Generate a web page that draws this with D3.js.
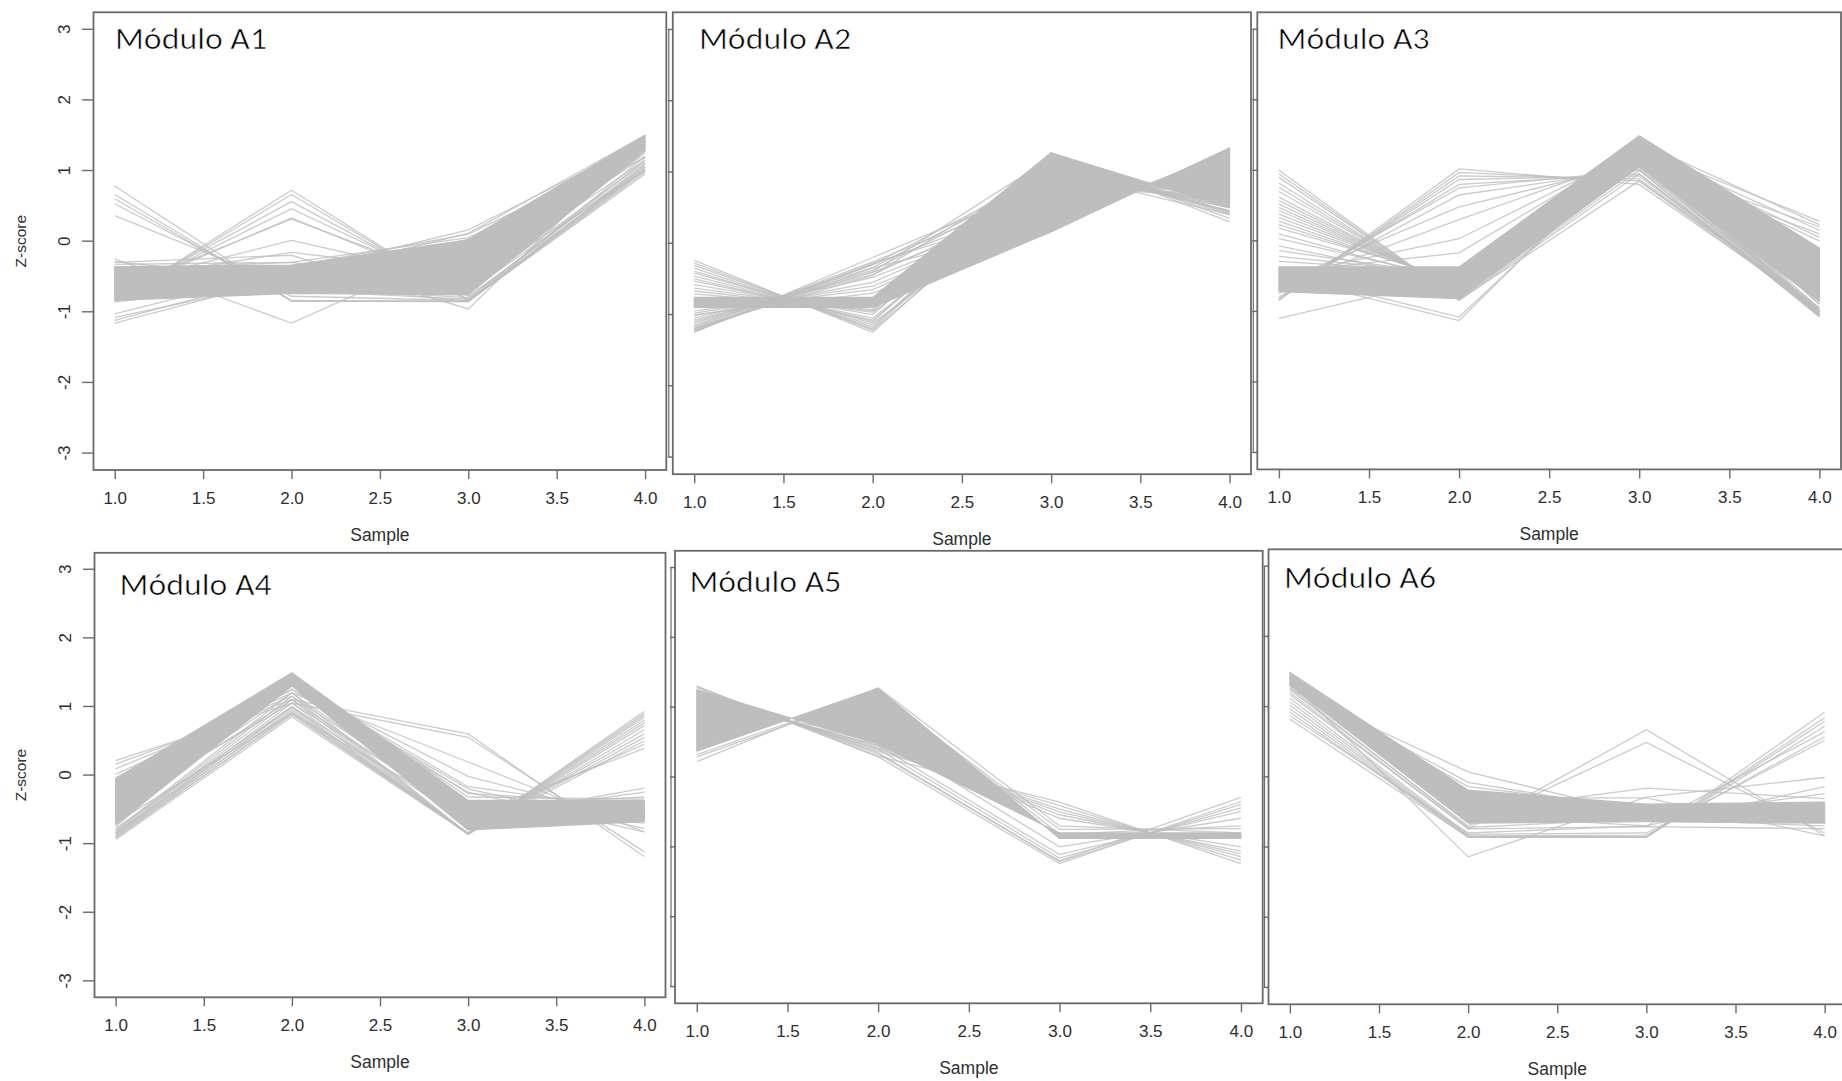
<!DOCTYPE html>
<html>
<head>
<meta charset="utf-8">
<script src="https://cdn.jsdelivr.net/npm/d3@7"></script>
<style>
  body { margin: 0; background: #fff; }
  svg { display: block; }
</style>
</head>
<body>
<svg id="fig" width="1842" height="1081"></svg>
<script>
// Samples on the x axis and the tick values of both axes
const samples = [1, 2, 3, 4];
const xTickValues = [1.0, 1.5, 2.0, 2.5, 3.0, 3.5, 4.0];
const yTickValues = [-3, -2, -1, 0, 1, 2, 3];
const moduleNames = ["Módulo A1", "Módulo A2", "Módulo A3", "Módulo A4", "Módulo A5", "Módulo A6"];

// Each module: dense bundles of profiles (given by their two edge profiles)
// and individual gene profiles (z-scores at samples 1..4).
const a1Bands = [
  [[-0.36, -0.34, 0.02, 1.50], [-0.84, -0.74, -0.76, 1.28]]
];
const a1Lines = [
  [0.78, -0.85, -0.85, 0.95],
  [0.66, -0.85, -0.85, 1.02],
  [0.60, -0.84, -0.86, 1.08],
  [0.53, -0.78, -0.84, 1.05],
  [0.36, -0.65, -0.80, 1.10],
  [-0.85, 0.72, -0.85, 0.98],
  [-0.84, 0.66, -0.83, 1.00],
  [-0.80, 0.56, -0.78, 1.02],
  [-0.78, 0.46, -0.72, 1.05],
  [-0.75, 0.33, -0.70, 1.12],
  [-0.70, 0.31, -0.62, 1.00],
  [-0.62, 0.01, -0.55, 1.15],
  [-0.55, -0.16, -0.45, 1.20],
  [-1.16, -0.50, 0.11, 1.50],
  [-1.12, -0.45, 0.16, 1.42],
  [-1.08, -0.55, 0.03, 1.50],
  [-1.03, -0.40, -0.06, 1.48],
  [-0.25, -1.16, -0.05, 1.45],
  [-0.30, -0.20, -0.96, 1.46],
  [-0.29, -0.55, -0.55, 1.40],
  [-0.33, -0.30, -0.62, 1.25],
  [-0.48, -0.36, 0.10, 1.30],
  [-0.40, -0.30, 0.05, 1.18],
  [-0.86, -0.60, -0.85, 1.20],
  [-0.50, -0.70, -0.82, 1.15]
];

const a2Bands = [
  [[-0.76, -0.76, 1.27, 0.50], [-0.90, -0.90, 0.16, 1.34]]
];
const a2Lines = [
  [-0.24, -1.25, 1.00, 0.50],
  [-0.28, -1.22, 0.90, 0.60],
  [-0.31, -1.20, 1.05, 0.46],
  [-0.35, -1.18, 1.15, 0.40],
  [-0.39, -1.15, 0.95, 0.60],
  [-0.42, -1.12, 0.70, 0.85],
  [-0.46, -1.10, 1.10, 0.45],
  [-0.50, -1.08, 1.00, 0.55],
  [-0.53, -1.05, 0.90, 0.68],
  [-0.58, -1.00, 1.15, 0.43],
  [-0.63, -0.97, 0.80, 0.80],
  [-0.67, -0.95, 1.10, 0.50],
  [-0.71, -0.93, 1.20, 0.44],
  [-1.25, -0.20, 0.85, 0.60],
  [-1.24, -0.28, 0.50, 1.00],
  [-1.23, -0.35, 0.30, 1.28],
  [-1.22, -0.30, 1.00, 0.40],
  [-1.20, -0.26, 0.75, 0.72],
  [-1.20, -0.40, 1.20, 0.42],
  [-1.18, -0.45, 1.10, 0.50],
  [-1.17, -0.30, 0.65, 0.85],
  [-1.15, -0.34, 0.95, 0.55],
  [-1.12, -0.38, 0.90, 0.62],
  [-1.10, -0.41, 0.60, 0.90],
  [-1.08, -0.44, 0.70, 0.80],
  [-1.05, -0.48, 0.50, 1.03],
  [-1.02, -0.55, 0.55, 1.00],
  [-1.00, -0.70, 0.25, 1.30],
  [-0.98, -0.60, 0.40, 1.18],
  [-0.95, -0.65, 0.45, 1.10],
  [-0.90, -0.80, 1.27, 0.30],
  [-0.88, -0.82, 1.25, 0.35]
];

const a3Bands = [
  [[-0.37, -0.37, 1.49, -0.10], [-0.72, -0.82, 1.05, -0.86]]
];
const a3Lines = [
  [-0.84, 1.02, 0.80, -0.98],
  [-0.84, 0.97, 0.85, -0.95],
  [-0.82, 0.92, 0.88, -0.98],
  [-0.80, 0.87, 0.92, -1.00],
  [-0.75, 0.80, 0.95, -1.00],
  [-0.70, 0.75, 1.00, -1.05],
  [-0.72, 0.65, 1.02, -0.95],
  [-0.60, 0.48, 1.10, -0.98],
  [-0.65, 0.30, 1.20, -0.85],
  [-0.50, 0.03, 1.30, -0.83],
  [-0.45, -0.17, 1.35, -0.73],
  [1.00, -0.84, 0.85, -1.01],
  [0.95, -0.84, 0.95, -1.06],
  [0.90, -0.82, 1.00, -1.08],
  [0.82, -0.80, 1.05, -1.07],
  [0.76, -0.78, 1.08, -1.06],
  [0.70, -0.75, 1.10, -1.05],
  [0.62, -0.72, 1.15, -1.05],
  [0.57, -0.70, 1.18, -1.05],
  [0.52, -0.68, 1.20, -1.04],
  [0.47, -0.66, 1.22, -1.03],
  [0.43, -0.65, 1.25, -1.03],
  [0.38, -0.62, 1.28, -1.03],
  [0.33, -0.60, 1.30, -1.03],
  [0.28, -0.60, 1.32, -1.00],
  [0.23, -0.58, 1.35, -1.00],
  [0.18, -0.55, 1.33, -0.96],
  [0.10, -0.60, 1.40, -0.90],
  [0.03, -0.55, 1.42, -0.90],
  [-0.07, -0.60, 1.45, -0.78],
  [-0.14, -0.50, 1.40, -0.76],
  [-0.22, -0.48, 1.44, -0.74],
  [-0.29, -0.45, 1.45, -0.71],
  [-1.10, -0.50, 1.30, 0.28],
  [-0.60, -0.70, 1.10, 0.20],
  [-0.55, -0.60, 1.05, 0.10],
  [-0.65, -0.55, 1.20, 0.00],
  [-0.58, -0.66, 1.25, 0.05],
  [-0.50, -1.13, 1.40, 0.23],
  [-0.45, -1.08, 1.30, 0.15]
];

const a4Bands = [
  [[-0.05, 1.49, -0.37, -0.37], [-0.72, 1.30, -0.80, -0.68]]
];
const a4Lines = [
  [-0.80, 1.20, -0.86, 0.93],
  [-0.82, 1.15, -0.86, 0.90],
  [-0.84, 1.10, -0.86, 0.87],
  [-0.86, 1.05, -0.86, 0.84],
  [-0.88, 1.00, -0.86, 0.80],
  [-0.90, 0.95, -0.86, 0.76],
  [-0.92, 0.90, -0.86, 0.72],
  [-0.94, 0.85, -0.86, 0.66],
  [-0.90, 0.88, -0.84, 0.60],
  [-0.86, 0.92, -0.85, 0.55],
  [-0.84, 0.98, -0.86, 0.50],
  [0.21, 1.05, -0.60, -0.65],
  [0.16, 1.10, -0.62, -0.60],
  [0.09, 1.15, -0.55, -0.66],
  [0.01, 1.20, -0.60, -0.58],
  [-0.04, 1.25, -0.50, -0.70],
  [-0.50, 1.10, 0.60, -1.19],
  [-0.45, 1.05, 0.55, -1.12],
  [-0.55, 1.20, 0.19, -0.83],
  [-0.60, 1.30, -0.02, -0.68],
  [-0.65, 1.35, -0.17, -0.52],
  [-0.70, 1.40, -0.27, -0.42],
  [-0.75, 1.42, -0.32, -0.35],
  [-0.60, 1.45, -0.65, -0.19],
  [-0.55, 1.40, -0.60, -0.25],
  [-0.62, 1.38, -0.45, -0.32],
  [-0.30, 1.30, -0.20, -0.78],
  [-0.20, 1.25, -0.25, -0.83],
  [-0.70, 0.90, -0.60, 0.39],
  [-0.78, 1.00, -0.70, 0.45]
];

const a5Bands = [
  [[1.25, 0.47, -0.80, -0.80], [0.37, 1.27, -0.88, -0.88]]
];
const a5Lines = [
  [1.30, 0.30, -0.36, -1.24],
  [1.24, 0.37, -0.41, -1.19],
  [1.20, 0.40, -0.46, -1.14],
  [1.17, 0.45, -0.54, -1.06],
  [1.10, 0.50, -0.59, -1.00],
  [1.30, 0.29, -1.24, -0.35],
  [1.25, 0.35, -1.21, -0.39],
  [1.20, 0.40, -1.16, -0.44],
  [1.15, 0.45, -1.11, -0.49],
  [1.28, 0.33, -1.20, -0.29],
  [0.22, 1.28, -0.70, -0.80],
  [0.29, 1.20, -0.75, -0.74],
  [1.00, 0.60, -1.00, -0.59],
  [1.22, 0.42, -0.50, -1.10],
  [0.32, 1.22, -0.82, -0.70]
];

const a6Bands = [
  [[1.49, -0.19, -0.39, -0.36], [1.30, -0.66, -0.64, -0.66]]
];
const a6Lines = [
  [0.82, -0.86, -0.86, 0.92],
  [0.92, -0.86, -0.86, 0.84],
  [0.97, -0.86, -0.86, 0.79],
  [1.02, -0.85, -0.86, 0.72],
  [1.07, -0.84, -0.83, 0.57],
  [1.12, -0.82, -0.80, 0.52],
  [1.20, -0.74, 0.67, -0.84],
  [1.24, -0.70, 0.49, -0.80],
  [1.25, 0.07, -0.55, -0.60],
  [1.30, -0.08, -0.50, -0.62],
  [1.30, -0.14, -0.45, -0.60],
  [1.35, -1.14, -0.29, -0.01],
  [1.45, -0.50, -0.16, -0.31],
  [1.42, -0.60, -0.58, -0.24],
  [1.40, -0.55, -0.70, -0.14],
  [1.40, -0.30, -0.30, -0.84],
  [1.17, -0.74, -0.71, -0.74],
  [1.27, -0.72, -0.60, -0.70],
  [0.87, -0.80, -0.70, 0.64]
];

const modules = [
  { name: moduleNames[0], bands: a1Bands, lines: a1Lines },
  { name: moduleNames[1], bands: a2Bands, lines: a2Lines },
  { name: moduleNames[2], bands: a3Bands, lines: a3Lines },
  { name: moduleNames[3], bands: a4Bands, lines: a4Lines },
  { name: moduleNames[4], bands: a5Bands, lines: a5Lines },
  { name: moduleNames[5], bands: a6Bands, lines: a6Lines }
];

// Plot-region boxes (left, top, right, bottom) and title anchors of the 2x3 grid
const layout = [
  { box: [93.5, 12.3, 666.3, 470.0], title: [115, 49.3], yLabels: true },
  { box: [672.8, 12.3, 1251.0, 474.2], title: [699, 49.0], yLabels: false },
  { box: [1257.3, 12.3, 1841.0, 469.4], title: [1277.6, 49.0], yLabels: false },
  { box: [94.5, 552.8, 665.5, 997.3], title: [119.6, 595.0], yLabels: true },
  { box: [675.0, 550.8, 1262.7, 1003.3], title: [689.4, 591.5], yLabels: false },
  { box: [1268.5, 549.3, 1846.0, 1004.3], title: [1284, 587.5], yLabels: false }
];

const svg = d3.select("#fig");
const defs = svg.append("defs");
const axisFont = "'Liberation Sans', Arial, Helvetica, sans-serif";
const lineGrey = "#bebebe";
const frameGrey = "#6a6a6a";

modules.forEach((mod, k) => {
  const L = layout[k];
  const [l, t, r, b] = L.box;
  const x = d3.scaleLinear().domain([0.88, 4.12]).range([l, r]);
  const y = d3.scaleLinear().domain([-3.24, 3.24]).range([b, t]);

  const g = svg.append("g").attr("class", "panel");
  g.append("rect")
    .attr("x", l).attr("y", t).attr("width", r - l).attr("height", b - t)
    .attr("fill", "#fff");

  defs.append("clipPath").attr("id", "clip" + k)
    .append("rect").attr("x", l).attr("y", t).attr("width", r - l).attr("height", b - t);
  const plot = g.append("g").attr("clip-path", `url(#clip${k})`);

  // dense bundles: area between the two edge profiles
  const area = d3.area()
    .x((_, i) => x(samples[i]))
    .y0(p => y(p[0]))
    .y1(p => y(p[1]));
  plot.selectAll("path.band").data(mod.bands).join("path")
    .attr("class", "band")
    .attr("d", band => area(d3.zip(band[0], band[1])))
    .attr("fill", lineGrey)
    .attr("stroke", lineGrey)
    .attr("stroke-width", 1.2)
    .attr("stroke-linejoin", "round");

  // individual gene profiles
  const line = d3.line().x((_, i) => x(samples[i])).y(v => y(v));
  plot.selectAll("path.gene").data(mod.lines).join("path")
    .attr("class", "gene")
    .attr("d", line)
    .attr("fill", "none")
    .attr("stroke", lineGrey)
    .attr("stroke-width", 1.3)
    .attr("stroke-opacity", 0.8);

  // frame
  g.append("rect")
    .attr("x", l).attr("y", t).attr("width", r - l).attr("height", b - t)
    .attr("fill", "none").attr("stroke", frameGrey).attr("stroke-width", 1.8);

  // x axis
  const xAxis = d3.axisBottom(x)
    .tickValues(xTickValues)
    .tickFormat(d3.format(".1f"))
    .tickSize(9)
    .tickPadding(12.5);
  const xg = g.append("g").attr("transform", `translate(0,${b})`).call(xAxis);
  xg.select(".domain").remove();
  xg.selectAll(".tick line").attr("stroke", frameGrey).attr("stroke-width", 1.4);
  xg.selectAll(".tick text")
    .attr("font-family", axisFont).attr("font-size", 17).attr("fill", "#2e2e2e");

  g.append("text")
    .attr("x", x(2.5)).attr("y", b + 70.7)
    .attr("text-anchor", "middle")
    .attr("font-family", axisFont).attr("font-size", 17.5).attr("fill", "#2e2e2e")
    .text("Sample");

  // y axis
  if (L.yLabels) {
    g.selectAll("line.ytick").data(yTickValues).join("line")
      .attr("class", "ytick")
      .attr("x1", l - 11.5).attr("x2", l)
      .attr("y1", d => y(d)).attr("y2", d => y(d))
      .attr("stroke", frameGrey).attr("stroke-width", 1.4);
    g.selectAll("text.ylab").data(yTickValues).join("text")
      .attr("class", "ylab")
      .attr("transform", d => `translate(${l - 24},${y(d)}) rotate(-90)`)
      .attr("text-anchor", "middle")
      .attr("font-family", axisFont).attr("font-size", 17).attr("fill", "#2e2e2e")
      .text(d => d);
    g.append("text")
      .attr("transform", `translate(25.5,${y(0)}) rotate(-90)`)
      .attr("text-anchor", "middle")
      .attr("font-family", axisFont).attr("font-size", 15.5).attr("fill", "#2e2e2e")
      .text("Z-score");
  } else {
    g.append("line")
      .attr("x1", l - 4).attr("x2", l - 4)
      .attr("y1", y(3)).attr("y2", y(-3))
      .attr("stroke", frameGrey).attr("stroke-width", 1.2);
    g.selectAll("line.ytick").data(yTickValues).join("line")
      .attr("class", "ytick")
      .attr("x1", l - 5).attr("x2", l)
      .attr("y1", d => y(d)).attr("y2", d => y(d))
      .attr("stroke", frameGrey).attr("stroke-width", 1.4);
  }

  // module title (thin white outline keeps the strokes light)
  g.append("text")
    .attr("x", L.title[0]).attr("y", L.title[1])
    .attr("font-family", "Carlito, Lato, 'Open Sans', sans-serif")
    .attr("font-size", 31)
    .attr("textLength", 152)
    .attr("lengthAdjust", "spacingAndGlyphs")
    .attr("fill", "#000")
    .attr("stroke", "#fff")
    .attr("stroke-width", 0.6)
    .text(mod.name);
});
</script>
</body>
</html>
